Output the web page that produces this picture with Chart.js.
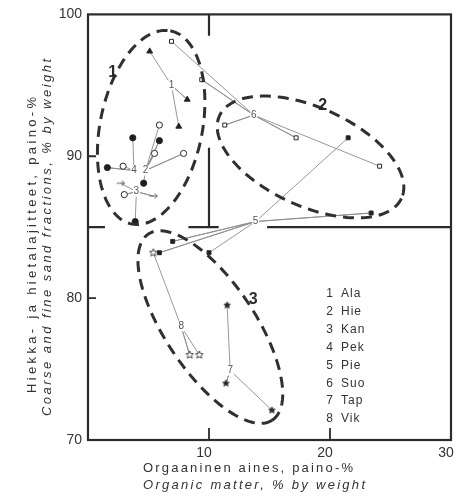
<!DOCTYPE html>
<html>
<head>
<meta charset="utf-8">
<script src="https://cdn.jsdelivr.net/npm/chart.js@4"></script>
<style>
  html, body { margin: 0; padding: 0; background: #fff; }
</style>
</head>
<body>
<canvas id="soilChart" width="464" height="497"></canvas>
<script>
// group names and where each group's number sits (organic matter %, sand %)
const groupNames = ['Ala', 'Hie', 'Kan', 'Pek', 'Pie', 'Suo', 'Tap', 'Vik'];
const groupCentres = [[6.9, 95.0], [4.75, 89.0], [4.0, 87.5], [3.8, 89.0], [13.85, 85.4], [13.7, 92.9], [11.75, 74.9], [7.7, 78.0]];

// sample points of each group
const alaPoints = [[5.1, 97.4], [8.2, 94.0], [7.5, 92.1]];
const hiePoints = [[5.9, 92.2], [5.9, 91.1], [5.5, 90.2], [7.9, 90.2], [4.6, 88.1]];
const kanPoints = [[2.7, 88.1], [3.0, 87.3], [5.4, 87.2], [3.9, 85.4]];
const pekPoints = [[3.7, 91.3], [1.6, 89.2], [2.9, 89.3]];
const piePoints = [[21.5, 91.3], [23.4, 86.0], [7.0, 84.0], [5.9, 83.2], [10.0, 83.2]];
const suoPoints = [[6.9, 98.1], [9.4, 95.4], [11.3, 92.2], [17.2, 91.3], [24.1, 89.3]];
const tapPoints = [[11.5, 79.5], [11.4, 74.0], [15.2, 72.1]];
const vikPoints = [[5.4, 83.2], [8.4, 76.0], [9.2, 76.0]];

// axis ticks
const xTicks = [10, 20, 30];
const yTicks = [70, 80, 90, 100];

// dashed outlines of the three site clusters: centre and two half-axis vectors, data units
const clusterNames = ['1', '2', '3'];
const clusterOutlines = [
  { c: [5.22, 92.03], a: [1.58, 6.81], b: [4.15, -0.67] },
  { c: [18.39, 89.95], a: [7.51, -2.93], b: [-1.75, -3.14] },
  { c: [10.11, 77.96], a: [5.10, -6.57], b: [3.13, 1.70] }
];
const clusterLabelAt = [[2.05, 95.9], [19.4, 93.55], [13.65, 79.9]];

const ink = '#2b2b2b';
const allPoints = [alaPoints, hiePoints, kanPoints, pekPoints, piePoints, suoPoints, tapPoints, vikPoints];

function starImage(size, filled) {
  const c = document.createElement('canvas');
  c.width = c.height = size;
  const g = c.getContext('2d');
  const r = size / 2 - 1, r2 = r * 0.45;
  g.beginPath();
  for (let i = 0; i < 10; i++) {
    const ang = -Math.PI / 2 + i * Math.PI / 5;
    const rr = i % 2 ? r2 : r;
    g.lineTo(size / 2 + rr * Math.cos(ang), size / 2 + rr * Math.sin(ang));
  }
  g.closePath();
  g.fillStyle = filled ? '#222' : '#fff';
  g.fill();
  g.lineWidth = 0.9;
  g.strokeStyle = '#333';
  g.stroke();
  return c;
}

function arrowImage() {
  const c = document.createElement('canvas');
  c.width = c.height = 10;
  const g = c.getContext('2d');
  g.strokeStyle = '#555';
  g.lineWidth = 0.9;
  g.beginPath();
  g.moveTo(1, 5); g.lineTo(9, 5);
  g.moveTo(6, 2.5); g.lineTo(9, 5); g.lineTo(6, 7.5);
  g.stroke();
  return c;
}

const openStar = starImage(10, false);
const fullStar = starImage(9, true);
const arrow = arrowImage();

// marker look per group (mixed where the figure mixes symbols)
const markerLook = [
  { style: ['triangle'], fill: [true] },
  { style: ['circle'], fill: [false, true, false, false, true] },
  { style: [arrow, 'circle', arrow, 'circle'], fill: [false, false, false, true] },
  { style: ['circle'], fill: [true, true, false] },
  { style: ['rect'], fill: [true] },
  { style: ['rect'], fill: [false] },
  { style: [fullStar], fill: [true] },
  { style: [openStar], fill: [false] }
];

const pick = (arr, i) => arr[Math.min(i, arr.length - 1)];

const datasets = [];
allPoints.forEach((pts, g) => {
  const c = groupCentres[g];
  const spoke = [];
  pts.forEach((p, i) => {
    if (i > 0) spoke.push({ x: c[0], y: c[1] });
    spoke.push({ x: p[0], y: p[1] });
  });
  if (pts.length === 1) spoke.push({ x: c[0], y: c[1] });
  datasets.push({
    data: spoke, showLine: true, borderColor: '#8c8c8c', borderWidth: 0.9,
    pointRadius: 0, order: 2
  });
  const look = markerLook[g];
  datasets.push({
    data: pts.map(p => ({ x: p[0], y: p[1] })),
    pointStyle: pts.map((_, i) => pick(look.style, i)),
    backgroundColor: pts.map((_, i) => pick(look.fill, i) ? '#1e1e1e' : '#fff'),
    borderColor: '#2a2a2a',
    borderWidth: 1,
    pointRadius: pts.map((_, i) => {
      const s = pick(look.style, i);
      return s === 'triangle' ? 3.4 : s === 'rect' ? 2.8 : 3.1;
    }),
    order: 1
  });
});

function toPx(chart, p) {
  return [chart.scales.x.getPixelForValue(p[0]), chart.scales.y.getPixelForValue(p[1])];
}

function spacedText(ctx, text, x, y, width) {
  ctx.letterSpacing = '0px';
  const w = ctx.measureText(text).width;
  const ls = Math.max(0, (width - w) / (text.length - 1));
  ctx.letterSpacing = ls + 'px';
  ctx.fillText(text, x, y);
  ctx.letterSpacing = '0px';
}

const decor = {
  id: 'decor',
  beforeDatasetsDraw(chart) {
    const ctx = chart.ctx;
    const seg = (a, b) => {
      const p = toPx(chart, a), q = toPx(chart, b);
      ctx.moveTo(p[0], p[1]); ctx.lineTo(q[0], q[1]);
    };
    ctx.save();
    ctx.strokeStyle = ink;
    ctx.lineWidth = 2.2;
    ctx.beginPath();
    // cross dividing the plot at 10 % / 85 %
    seg([10, 100], [10, 98.5]);
    seg([10, 90.6], [10, 85]);
    seg([0, 85], [1.4, 85]);
    seg([8.3, 85], [10.8, 85]);
    seg([14.8, 85], [30, 85]);
    ctx.stroke();
    // inner ticks
    ctx.lineWidth = 1.8;
    ctx.beginPath();
    const a = chart.chartArea;
    [10, 20].forEach(v => {
      const x = chart.scales.x.getPixelForValue(v);
      ctx.moveTo(x, a.bottom); ctx.lineTo(x, a.bottom - 12);
    });
    [80, 90].forEach(v => {
      const y = chart.scales.y.getPixelForValue(v);
      ctx.moveTo(a.left, y); ctx.lineTo(a.left + 8, y);
    });
    ctx.stroke();
    // frame
    ctx.lineWidth = 2.2;
    ctx.strokeRect(a.left, a.top, a.right - a.left, a.bottom - a.top);
    ctx.restore();
  },
  afterDatasetsDraw(chart) {
    const ctx = chart.ctx;
    ctx.save();
    // cluster outlines
    ctx.strokeStyle = '#303030';
    ctx.lineWidth = 3;
    ctx.setLineDash([11, 7]);
    clusterOutlines.forEach(e => {
      ctx.beginPath();
      for (let i = 0; i <= 160; i++) {
        const t = i / 160 * Math.PI * 2;
        const p = toPx(chart, [
          e.c[0] + e.a[0] * Math.cos(t) + e.b[0] * Math.sin(t),
          e.c[1] + e.a[1] * Math.cos(t) + e.b[1] * Math.sin(t)
        ]);
        if (i === 0) ctx.moveTo(p[0], p[1]); else ctx.lineTo(p[0], p[1]);
      }
      ctx.stroke();
    });
    ctx.setLineDash([]);
    ctx.fillStyle = '#2a2a2a';
    ctx.font = 'bold 16px "Liberation Sans", Arial, sans-serif';
    ctx.textAlign = 'center';
    ctx.textBaseline = 'middle';
    clusterLabelAt.forEach((p, i) => {
      const q = toPx(chart, p);
      ctx.fillText(clusterNames[i], q[0], q[1]);
    });
    // group numbers at spoke hubs
    ctx.font = '10px "Liberation Sans", Arial, sans-serif';
    groupCentres.forEach((c, i) => {
      const q = toPx(chart, c);
      ctx.fillStyle = '#fff';
      ctx.fillRect(q[0] - 3.5, q[1] - 5, 7, 10);
      ctx.fillStyle = '#555';
      ctx.fillText(String(i + 1), q[0], q[1]);
    });
    // key
    ctx.font = '12px "Liberation Sans", Arial, sans-serif';
    ctx.fillStyle = '#333';
    groupNames.forEach((n, i) => {
      const y = chart.scales.y.getPixelForValue(80.3 - i * 1.26);
      const x = chart.scales.x.getPixelForValue(20);
      ctx.textAlign = 'right';
      ctx.fillText(String(i + 1), x + 3, y);
      ctx.textAlign = 'left';
      ctx.letterSpacing = '1px';
      ctx.fillText(n, x + 11, y);
      ctx.letterSpacing = '0px';
    });
    // axis titles
    ctx.fillStyle = '#333';
    ctx.textAlign = 'left';
    ctx.font = '13px "Liberation Sans", Arial, sans-serif';
    spacedText(ctx, 'Orgaaninen aines, paino-%', 143, 468, 210);
    ctx.font = 'italic 13px "Liberation Sans", Arial, sans-serif';
    spacedText(ctx, 'Organic matter, % by weight', 143, 485, 222);
    ctx.save();
    ctx.translate(32, 245);
    ctx.rotate(-Math.PI / 2);
    ctx.textAlign = 'left';
    ctx.font = '13px "Liberation Sans", Arial, sans-serif';
    spacedText(ctx, 'Hiekka- ja hietalajitteet, paino-%', -148, 0, 296);
    ctx.restore();
    ctx.save();
    ctx.translate(47, 238);
    ctx.rotate(-Math.PI / 2);
    ctx.textAlign = 'left';
    ctx.font = 'italic 13px "Liberation Sans", Arial, sans-serif';
    spacedText(ctx, 'Coarse and fine sand fractions, % by weight', -178, 0, 357);
    ctx.restore();
    ctx.restore();
  }
};

new Chart(document.getElementById('soilChart'), {
  type: 'scatter',
  data: { datasets: datasets },
  options: {
    responsive: false,
    animation: false,
    layout: { padding: { top: 7, right: 13, left: 0, bottom: 0 } },
    plugins: { legend: { display: false }, tooltip: { enabled: false } },
    scales: {
      x: {
        type: 'linear', min: 0, max: 30,
        afterFit: s => { s.height = 57; },
        afterBuildTicks: s => { s.ticks = xTicks.map(v => ({ value: v })); },
        border: { display: false },
        grid: { display: false, drawTicks: false },
        ticks: { padding: 5, labelOffset: -5, color: '#333', font: { family: '"Liberation Sans", Arial, sans-serif', size: 14 } }
      },
      y: {
        type: 'linear', min: 70, max: 100,
        afterFit: s => { s.width = 88; },
        afterBuildTicks: s => { s.ticks = yTicks.map(v => ({ value: v })); },
        border: { display: false },
        grid: { display: false, drawTicks: false },
        ticks: { padding: 6, color: '#333', font: { family: '"Liberation Sans", Arial, sans-serif', size: 14 } }
      }
    }
  },
  plugins: [decor]
});
</script>
</body>
</html>
